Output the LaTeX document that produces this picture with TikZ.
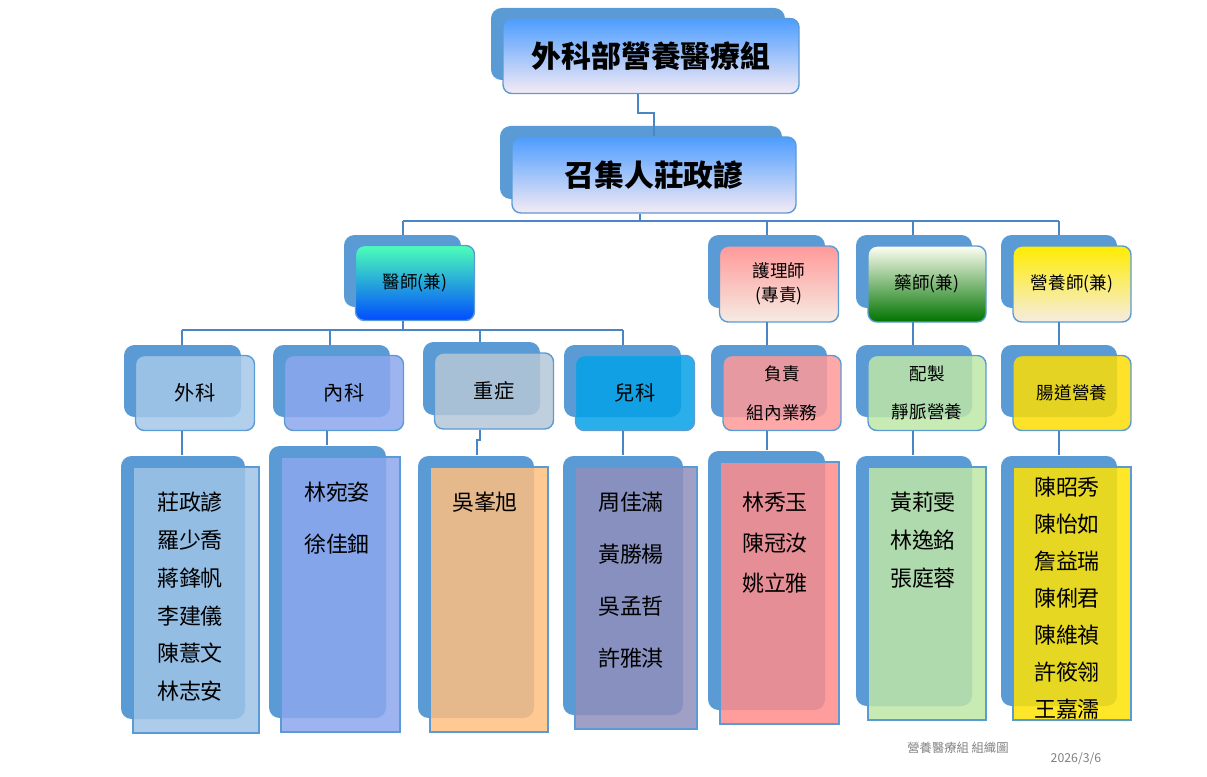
\documentclass[tikz,border=0pt]{standalone}
\usepackage{fontspec}
\setmainfont{Noto Sans CJK TC}
\usetikzlibrary{shapes.misc}
\definecolor{bk}{HTML}{5B9BD5}
\definecolor{ln}{HTML}{4A86C5}
\tikzset{
    every node/.style={color=black},
    back/.style={fill=bk, draw=none, rounded corners=6pt},
    front/.style={draw=bk, line width=0.8pt, rounded corners=5pt, align=center},
    card/.style={draw=bk, line width=0.8pt, fill opacity=0.85, chamfered rectangle,
        chamfered rectangle corners=north east, chamfered rectangle sep=9pt},
    link/.style={draw=ln, line width=0.8pt},
    names/.style={anchor=north, align=center, font=\fontsize{12.5pt}{21.5pt}\selectfont},
    boxsize/.style n args={4}{minimum width={(#3-#1)*0.02cm}, minimum height={(#4-#2)*0.02cm}, inner sep=0pt}
}
% back box from front box corners
\newcommand\backbox[4]{\fill[back] ({#1-12},{#2-11}) rectangle ({#3-14},{#4-14});}

\begin{document}
\begin{tikzpicture}[x=0.02cm, y=-0.02cm]
    \useasboundingbox (0,0) rectangle (1207,777);

    % Title and convener
    \backbox{503}{19}{799}{94}
    \node[front, top color=blue!55!cyan!70, bottom color=violet!8, boxsize={503}{19}{799}{94},
        font=\fontsize{17pt}{20pt}\selectfont\bfseries] (title) at (651,56) {外科部營養醫療組};
    \backbox{512}{137}{796}{213}
    \node[front, top color=blue!55!cyan!70, bottom color=violet!8, boxsize={512}{137}{796}{213},
        font=\fontsize{17pt}{20pt}\selectfont\bfseries] (head) at (654,175) {召集人莊政諺};

    % Level 2
    \begin{scope}[every node/.append style={font=\fontsize{10pt}{14pt}\selectfont}]
    \backbox{356}{246}{475}{321}
    \node[front, top color=cyan!60!green!70, bottom color=blue!70!cyan, boxsize={356}{246}{475}{321}] (doc) at (415,283) {醫師(兼)};
    \backbox{720}{246}{839}{322}
    \node[front, top color=red!40, bottom color=brown!15, boxsize={720}{246}{839}{322}] (nurse) at (779,284) {護理師\\(專責)};
    \backbox{868}{246}{986}{322}
    \node[front, top color=white!95!yellow, bottom color=green!45!black, boxsize={868}{246}{986}{322}] (pharm) at (927,284) {藥師(兼)};
    \backbox{1013}{246}{1131}{322}
    \node[front, top color=yellow!85!orange, bottom color=brown!15, boxsize={1013}{246}{1131}{322}] (diet) at (1072,284) {營養師(兼)};
    \end{scope}

    % Level 3
    \begin{scope}[every node/.append style={font=\fontsize{11.5pt}{22pt}\selectfont, fill opacity=0.85, text opacity=1}]
    \backbox{136}{356}{255}{431}
    \node[front, fill=bk!55, boxsize={136}{356}{255}{431}] (surg) at (195,393) {外科};
    \backbox{285}{356}{404}{431}
    \node[front, fill=blue!30!bk!60, boxsize={285}{356}{404}{431}] (med) at (344,393) {內科};
    \backbox{435}{353}{554}{429}
    \node[front, fill=gray!45!bk!50, boxsize={435}{353}{554}{429}] (icu) at (494,391) {重症};
    \backbox{576}{356}{695}{431}
    \node[front, fill=cyan!90!blue, boxsize={576}{356}{695}{431}] (ped) at (635,393) {兒科};
    \backbox{723}{356}{841}{431}
    \node[front, fill=red!40, font=\fontsize{10pt}{22pt}\selectfont, boxsize={723}{356}{841}{431}] (task) at (782,393) {負責\\組內業務};
    \backbox{868}{356}{986}{431}
    \node[front, fill=green!45!olive!35, font=\fontsize{10pt}{22pt}\selectfont, boxsize={868}{356}{986}{431}] (tpn) at (927,393) {配製\\靜脈營養};
    \backbox{1013}{356}{1131}{431}
    \node[front, fill=yellow!80!orange, font=\fontsize{10pt}{22pt}\selectfont, boxsize={1013}{356}{1131}{431}] (ent) at (1072,393) {腸道營養};
    \end{scope}

    % Level 4 member cards
    \backbox{133}{467}{259}{733}
    \node[card, fill=bk!60, boxsize={133}{467}{259}{733}] (surgL) at (196,600) {};
    \backbox{281}{457}{400}{732}
    \node[card, fill=blue!30!bk!60, boxsize={281}{457}{400}{732}] (medL) at (340.5,594.5) {};
    \backbox{430}{467}{548}{732}
    \node[card, fill=orange!50, boxsize={430}{467}{548}{732}] (icuL) at (489,599.5) {};
    \backbox{575}{467}{697}{729}
    \node[card, fill=blue!25!gray!70, boxsize={575}{467}{697}{729}] (pedL) at (636,598) {};
    \backbox{720}{462}{839}{724}
    \node[card, fill=red!45, boxsize={720}{462}{839}{724}] (nurseL) at (779.5,593) {};
    \backbox{868}{467}{986}{720}
    \node[card, fill=green!45!olive!35, boxsize={868}{467}{986}{720}] (pharmL) at (927,593.5) {};
    \backbox{1013}{467}{1131}{720}
    \node[card, fill=yellow!85!orange, boxsize={1013}{467}{1131}{720}] (dietL) at (1072,593.5) {};

    \node[names] at (190,486) {莊政諺\\羅少喬\\蔣鋒帆\\李建儀\\陳薏文\\林志安};
    \node[names, font=\fontsize{12.5pt}{29.5pt}\selectfont] at (337,476) {林宛姿\\徐佳鈿};
    \node[names] at (485,486) {吳峯旭};
    \node[names, font=\fontsize{12.5pt}{29.5pt}\selectfont] at (631,486) {周佳滿\\黃勝楊\\吳孟哲\\許雅淇};
    \node[names, font=\fontsize{12.5pt}{23pt}\selectfont] at (775,486) {林秀玉\\陳冠汝\\姚立雅};
    \node[names] at (923,486) {黃莉雯\\林逸銘\\張庭蓉};
    \node[names, font=\fontsize{12.5pt}{21pt}\selectfont] at (1067,471) {陳昭秀\\陳怡如\\詹益瑞\\陳俐君\\陳維禎\\許筱翎\\王嘉濡};

    % Footer
    \node[font=\fontsize{7pt}{8pt}\selectfont, text=gray] (foot) at (958,748) {營養醫療組 組織圖};
    \node[font=\fontsize{7pt}{8pt}\selectfont, text=gray] (date) at (1076,759) {2026/3/6};

    % Connections
    \draw[link] (title.south) ++(-13,0) coordinate (t0) -- ++(0,19) -| (head.north);
    \coordinate (j1) at (640,221);
    \draw[link] (head.south -| j1) -- (j1);
    \draw[link] (403,221) -- (1059,221);
    \foreach \x in {403,767,913,1059}
        \draw[link] (\x,221) -- (\x,235);
    \draw[link] (403,321) -- (403,330);
    \draw[link] (182,330) -- (623,330);
    \foreach \x/\y in {182/345,330/345,480/342,623/345,767/345,913/345,1059/345}
        \draw[link] (\x,330) -- (\x,\y);
    \draw[link] (767,322) -- (767,330);
    \draw[link] (913,322) -- (913,330);
    \draw[link] (1059,322) -- (1059,330);
    \foreach \n/\x/\y in {surg/182/455,med/327/445,ped/623/455,task/767/450,tpn/913/455,ent/1059/455} {
        \coordinate (c) at (\x,\y);
        \draw[link] (\n.south -| c) -- (c);
    }
    \coordinate (c) at (480,440);
    \draw[link] (icu.south -| c) -- (c) -- ++(-3,0) -- (477,455);
\end{tikzpicture}
\end{document}
